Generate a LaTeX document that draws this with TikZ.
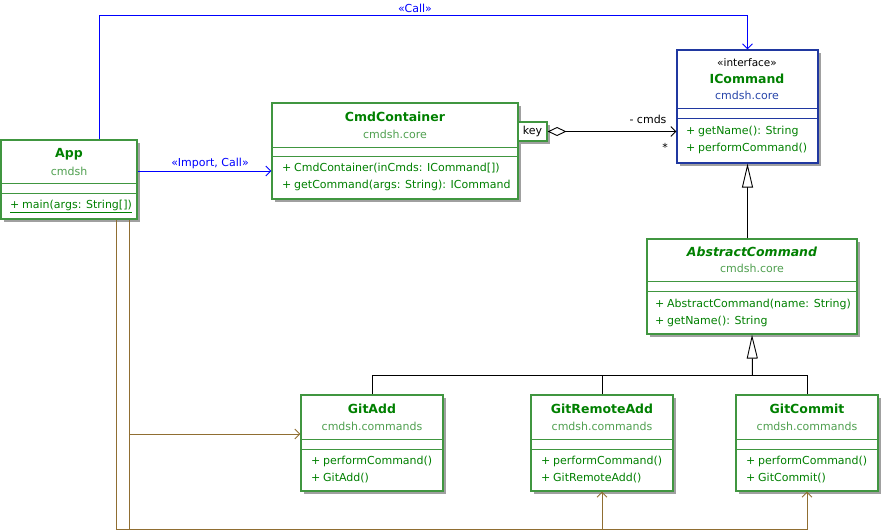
\documentclass[tikz,border=0pt]{standalone}
\usepackage{fontspec}
\setmainfont{DejaVu Sans}
\usetikzlibrary{arrows.meta,fit,calc}
\definecolor{boxgreen}{RGB}{64,150,64}
\definecolor{ifblue}{RGB}{32,56,160}
\definecolor{ttlgreen}{RGB}{0,128,0}
\definecolor{pkggreen}{RGB}{80,160,80}
\definecolor{pkgblue}{RGB}{40,70,170}
\definecolor{callblue}{RGB}{0,0,255}
\definecolor{depbrown}{RGB}{144,110,50}
\definecolor{shadowc}{RGB}{160,160,160}
\newcommand\umlclass[8]{%
  \fill[shadowc] (#2+3,#3+3) rectangle (#4+3,#5+3);
  \node[classbox, draw=#6, fit={(#2,#3) (#4,#5)}] (#1) {};
  \draw[#6, line width=1pt] (#2,#7) -- (#4,#7) (#2,#8) -- (#4,#8);
}
\newcommand\pl{\makebox[12pt][l]{+}}
\begin{document}
\begin{tikzpicture}[x=1pt,y=-1pt,
  classbox/.style={line width=1.1pt, fill=white, inner sep=0pt},
  ttl/.style={font=\fontsize{12.5}{14}\selectfont\bfseries, text=ttlgreen, inner sep=0pt},
  pkg/.style={font=\fontsize{11}{13}\selectfont, text=pkggreen, inner sep=0pt},
  meth/.style={font=\fontsize{11}{13}\selectfont, text=ttlgreen, inner sep=0pt, anchor=west},
  lbl/.style={font=\fontsize{11}{13}\selectfont, inner sep=0pt},
  callline/.style={draw=callblue, color=callblue, line width=1pt},
  depline/.style={draw=depbrown, color=depbrown, line width=1pt},
  plain/.style={draw=black, line width=1pt},
  openhead/.style={-{Straight Barb[length=5pt,width=10pt,line width=0.9pt]}},
  gen/.style={-{Triangle[open,length=24pt,width=11pt,fill=white,line width=0.9pt]}},
  agg/.style={{Diamond[open,length=19pt,width=9pt,fill=white,line width=0.9pt]}-{Straight Barb[length=5pt,width=10pt,line width=0.9pt]}}
]
\useasboundingbox (0,0) rectangle (881,531);

% ---- classes ----
\umlclass{app}{1}{140}{137}{219}{boxgreen}{183}{193}
\node[ttl] at (69,154) {App};
\node[pkg] at (69,171) {cmdsh};
\node[meth] at (10,206) {\underline{\pl main(args: String[])}};

\umlclass{cmd}{272}{103}{518}{199}{boxgreen}{147}{156}
\node[ttl] at (395,117) {CmdContainer};
\node[pkg] at (395,134) {cmdsh.core};
\node[meth] at (282,168) {\pl CmdContainer(inCmds: ICommand[])};
\node[meth] at (282,185) {\pl getCommand(args: String): ICommand};

\fill[shadowc] (521,125) rectangle (550,144);
\node[classbox, draw=boxgreen, fit={(518,122) (547,141)}] (key) {};
\node[lbl] at (key.center) {key};

\umlclass{icmd}{677}{50}{818}{163}{ifblue}{108}{118}
\node[lbl, font=\fontsize{10.5}{12}\selectfont] at (747,63) {«interface»};
\node[ttl] at (747,79) {ICommand};
\node[pkg, text=pkgblue] at (747,95) {cmdsh.core};
\node[meth] at (686,131) {\pl getName(): String};
\node[meth] at (686,148) {\pl performCommand()};

\umlclass{abs}{647}{239}{857}{334}{boxgreen}{281}{291}
\node[ttl, font=\fontsize{12.5}{14}\selectfont\bfseries\itshape] at (752,252) {AbstractCommand};
\node[pkg] at (752,268) {cmdsh.core};
\node[meth] at (655,304) {\pl AbstractCommand(name: String)};
\node[meth] at (655,321) {\pl getName(): String};

\umlclass{gitadd}{301}{395}{443}{491}{boxgreen}{439}{449}
\node[ttl] at (372,409) {GitAdd};
\node[pkg] at (372,426) {cmdsh.commands};
\node[meth] at (311,461) {\pl performCommand()};
\node[meth] at (311,478) {\pl GitAdd()};

\umlclass{gitremote}{531}{395}{673}{491}{boxgreen}{439}{449}
\node[ttl] at (602,409) {GitRemoteAdd};
\node[pkg] at (602,426) {cmdsh.commands};
\node[meth] at (541,461) {\pl performCommand()};
\node[meth] at (541,478) {\pl GitRemoteAdd()};

\umlclass{gitcommit}{736}{395}{878}{491}{boxgreen}{439}{449}
\node[ttl] at (807,409) {GitCommit};
\node[pkg] at (807,426) {cmdsh.commands};
\node[meth] at (746,461) {\pl performCommand()};
\node[meth] at (746,478) {\pl GitCommit()};

% ---- connectors ----
\coordinate (top) at (0,15.5);
\draw[callline, openhead] ([xshift=99.5pt]app.north west) |- (top -| icmd.north) -- (icmd.north);
\node[lbl, text=callblue] at (415,8) {«Call»};

\draw[callline, openhead] ([yshift=8.5pt]app.east) -- ([yshift=8.5pt]app.east -| cmd.west);
\node[lbl, text=callblue] at (210,163) {«Import, Call»};

\draw[plain, agg] (key.east) -- (key.east -| icmd.west);
\node[lbl] at (648,119) {- cmds};
\node[lbl] at (665,147) {*};

\draw[plain, gen] (icmd.south |- abs.north) -- (icmd.south);

\coordinate (tj) at (752.5,375.5);
\draw[plain, gen] (tj) -- (abs.south);
\draw[plain] (gitadd.north) |- (tj);
\draw[plain] (gitremote.north) |- (tj);
\draw[plain] (gitcommit.north) |- (tj);

\coordinate (a1) at ([xshift=116.5pt]app.south west);
\coordinate (a2) at ([xshift=129.5pt]app.south west);
\coordinate (bl) at (0,529.5);
\draw[depline, openhead] (a2) |- ([yshift=9pt]gitadd.west);
\draw[depline, openhead] (a2) |- (bl -| gitremote.south) -- (gitremote.south);
\draw[depline, openhead] (a1) |- (bl -| gitcommit.south) -- (gitcommit.south);
\end{tikzpicture}
\end{document}
